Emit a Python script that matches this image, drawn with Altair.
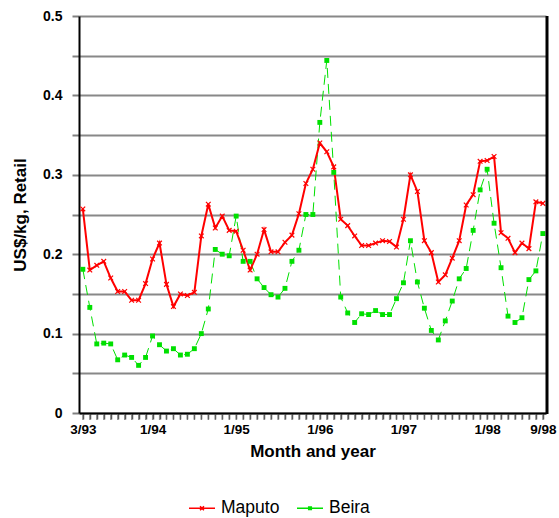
import altair as alt
import pandas as pd

months = list(range(67))
maputo = [0.257, 0.180, 0.186, 0.191, 0.170, 0.153, 0.153, 0.142, 0.142, 0.163,
          0.194, 0.214, 0.162, 0.134, 0.150, 0.148, 0.152, 0.223, 0.263, 0.233,
          0.248, 0.230, 0.229, 0.205, 0.180, 0.200, 0.231, 0.203, 0.203, 0.215,
          0.224, 0.251, 0.289, 0.307, 0.340, 0.329, 0.310, 0.244, 0.236, 0.223,
          0.211, 0.211, 0.214, 0.217, 0.216, 0.209, 0.244, 0.300, 0.279, 0.217,
          0.202, 0.165, 0.174, 0.195, 0.217, 0.262, 0.275, 0.317, 0.318, 0.323,
          0.227, 0.220, 0.202, 0.214, 0.207, 0.266, 0.264]
beira = [0.181, 0.133, 0.087, 0.088, 0.087, 0.067, 0.073, 0.070, 0.060, 0.070,
         0.097, 0.086, 0.078, 0.081, 0.073, 0.074, 0.081, 0.100, 0.131, 0.206,
         0.200, 0.198, 0.248, 0.191, 0.191, 0.169, 0.158, 0.149, 0.146, 0.157,
         0.191, 0.205, 0.250, 0.250, 0.366, 0.444, 0.303, 0.146, 0.126, 0.114,
         0.125, 0.124, 0.129, 0.124, 0.124, 0.144, 0.164, 0.217, 0.165, 0.132,
         0.104, 0.092, 0.116, 0.141, 0.169, 0.182, 0.230, 0.281, 0.307, 0.239,
         0.183, 0.122, 0.114, 0.120, 0.168, 0.179, 0.226]
series_names = ["Maputo", "Beira"]
series_colors = ["#ff0000", "#00e000"]
tick_months = [0, 10, 22, 34, 46, 58, 66]
tick_labels = ["3/93", "1/94", "1/95", "1/96", "1/97", "1/98", "9/98"]
y_ticks = [0, 0.05, 0.1, 0.15, 0.2, 0.25, 0.3, 0.35, 0.4, 0.45, 0.5]

df = pd.DataFrame({
    "m": months * 2,
    "v": maputo + beira,
    "s": [series_names[0]] * len(maputo) + [series_names[1]] * len(beira),
})
months_df = pd.DataFrame({"m": months})

x_expr = "".join(f"round(datum.value) == {m} ? '{l}' : " for m, l in zip(tick_months, tick_labels)) + "''"
y_expr = "(round(datum.value * 100) % 10 == 0) ? (datum.value == 0 ? '0' : format(datum.value, '.1f')) : ''"

FONT = "Liberation Sans"

x_enc = alt.X("m:Q",
              scale=alt.Scale(domain=[-0.55, 66.45], nice=False, zero=False),
              axis=alt.Axis(values=months, labelExpr=x_expr, title="Month and year",
                            grid=False, ticks=True, tickColor="#555555", tickSize=6,
                            tickWidth=1.5,
                            domainColor="#000000", domainWidth=2,
                            labelFont=FONT, labelFontSize=13.5, labelFontWeight="bold",
                            labelColor="#000000", labelOverlap=False, labelFlush=False,
                            labelBound=False, labelPadding=3,
                            titleFont=FONT, titleFontSize=17, titleFontWeight="bold",
                            titleColor="#000000", titlePadding=8))
y_enc = alt.Y("v:Q",
              scale=alt.Scale(domain=[0, 0.5], nice=False),
              axis=alt.Axis(values=y_ticks, labelExpr=y_expr, title="US$/kg, Retail",
                            grid=True, gridColor="#888888", gridWidth=2,
                            ticks=True, tickColor="#808080", tickSize=7, tickWidth=2,
                            domainColor="#000000", domainWidth=2,
                            labelFont=FONT, labelFontSize=14, labelFontWeight="bold",
                            labelColor="#000000", labelPadding=10,
                            titleFont=FONT, titleFontSize=17, titleFontWeight="bold",
                            titleColor="#000000", titlePadding=13))

base = alt.Chart(df)
maputo_data = base.transform_filter(alt.datum.s == "Maputo")
beira_data = base.transform_filter(alt.datum.s == "Beira")

line_m = maputo_data.mark_line(color=series_colors[0], strokeWidth=2).encode(x=x_enc, y=y_enc)
line_b = beira_data.mark_line(color=series_colors[1], strokeWidth=1,
                              strokeDash=[10, 6]).encode(x=x_enc, y=y_enc)
pts_m = maputo_data.mark_point(shape="M-1,-1L1,1M-1,1L1,-1", filled=False,
                               color=series_colors[0], strokeWidth=1.2, size=22,
                               opacity=1).encode(x=x_enc, y=y_enc)
pts_b = beira_data.mark_point(shape="square", filled=True, color=series_colors[1],
                              size=24, opacity=1).encode(x=x_enc, y=y_enc)

legend_paths = ["M-1,0L1,0M-0.15,-0.15L0.15,0.15M-0.15,0.15L0.15,-0.15",
                "M-1,0L1,0M-0.1,-0.1H0.1V0.1H-0.1Z"]

legend_layer = base.mark_point(filled=False, opacity=0).encode(
    x=x_enc, y=y_enc,
    color=alt.Color("s:N", sort=series_names,
                    scale=alt.Scale(domain=series_names, range=series_colors),
                    legend=alt.Legend(title=None, orient="none", direction="horizontal",
                                      legendX=109, legendY=478,
                                      symbolSize=676, symbolStrokeWidth=1.5,
                                      symbolOpacity=1,
                                      labelFont=FONT, labelFontSize=17.5,
                                      labelColor="#000000", columnPadding=14,
                                      labelOffset=5)),
    shape=alt.Shape("s:N", sort=series_names,
                    scale=alt.Scale(domain=series_names, range=legend_paths)),
)

# monthly minor ticks under the x axis (one per month, placed by the x scale)
month_ticks = alt.Chart(months_df).mark_tick(
    orient="vertical", color="#666666", thickness=1.2, size=6, clip=False
).encode(x=x_enc, y=alt.value(401))

right_border = alt.Chart(pd.DataFrame({"k": [1]})).mark_rule(
    color="#000000", strokeWidth=3).encode(x=alt.value(468), y=alt.value(0), y2=alt.value(398))

chart = alt.layer(month_ticks, line_b, line_m, pts_b, pts_m, legend_layer, right_border).properties(
    width=467, height=397,
    autosize=alt.AutoSizeParams(type="none"),
    padding={"left": 79, "top": 16, "right": 13, "bottom": 105},
).configure_view(stroke="#555555", strokeWidth=1).configure(background="white")

chart.save("out.html", embed_options={"renderer": "svg", "actions": False})
